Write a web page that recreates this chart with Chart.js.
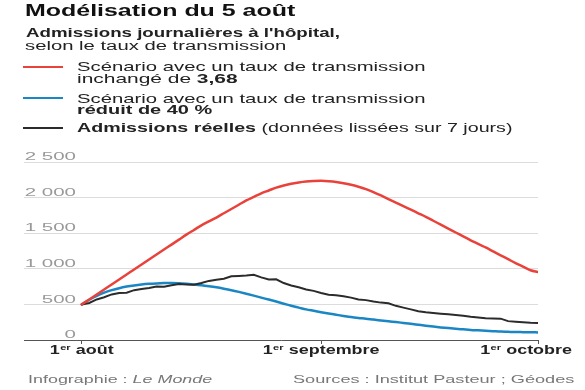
<!DOCTYPE html>
<html lang="fr">
<head>
<meta charset="utf-8">
<script src="https://cdn.jsdelivr.net/npm/chart.js@4.4.1/dist/chart.umd.min.js"></script>
<style>
  html, body { margin: 0; padding: 0; background: #fff; }
  #wrap { position: relative; width: 585px; height: 390px; overflow: hidden; font-family: "Liberation Sans", Arial, sans-serif; color: #222; }
  #chart { position: absolute; left: 0; top: 0; }
  .t { position: absolute; display: inline-block; white-space: nowrap; transform-origin: 0 0; }
  .sw { position: absolute; left: 23px; width: 40px; height: 2px; }
</style>
</head>
<body>
<div id="wrap">
  <canvas id="chart" width="585" height="390"></canvas>

  <span class="t" data-w="270" style="left:25px;top:2px;font-size:17px;line-height:17px;font-weight:bold;color:#111">Modélisation du 5 août</span>
  <span class="t" data-w="314" style="left:26px;top:27.1px;font-size:12.5px;line-height:12.5px;font-weight:bold">Admissions journalières à l'hôpital,</span>
  <span class="t" data-w="261" style="left:25px;top:40.1px;font-size:12.5px;line-height:12.5px">selon le taux de transmission</span>

  <div class="sw" style="top:65.7px;background:#e8423b"></div>
  <span class="t" data-w="348" style="left:77px;top:60px;font-size:13px;line-height:13px">Scénario avec un taux de transmission</span>
  <span class="t" data-w="161" style="left:77px;top:71.7px;font-size:13px;line-height:13px">inchangé de <b>3,68</b></span>

  <div class="sw" style="top:96.7px;background:#1a87c4"></div>
  <span class="t" data-w="348" style="left:77px;top:92.3px;font-size:13px;line-height:13px">Scénario avec un taux de transmission</span>
  <span class="t" data-w="135" style="left:77px;top:103.3px;font-size:13px;line-height:13px"><b>réduit de 40 %</b></span>

  <div class="sw" style="top:126.7px;background:#2b2b2b"></div>
  <span class="t" data-w="435" style="left:77px;top:120.7px;font-size:13px;line-height:13px"><b>Admissions réelles</b> (données lissées sur 7 jours)</span>

  <span class="t" data-w="184" style="left:28px;top:373.7px;font-size:11px;line-height:11px;color:#777">Infographie : <i>Le Monde</i></span>
  <span class="t" data-w="282" style="left:293px;top:373.7px;font-size:11px;line-height:11px;color:#777">Sources : Institut Pasteur ; Géodes</span>
</div>

<script>
// jours depuis le 1er août
const days = [
  0, 1, 2, 3, 4, 5, 6, 7, 8, 9, 10, 11, 12, 13, 14, 15, 16, 17, 18, 19, 20,
  21, 22, 23, 24, 25, 26, 27, 28, 29, 30, 31, 32, 33, 34, 35, 36, 37, 38, 39, 40,
  41, 42, 43, 44, 45, 46, 47, 48, 49, 50, 51, 52, 53, 54, 55, 56, 57, 58, 59, 60, 61
];

// Scénario taux inchangé (3,68)
const scenarioUnchanged = [
  500, 570, 640, 710, 780, 850, 920, 990, 1060, 1130, 1200, 1270, 1340, 1410, 1480, 1545, 1610, 1665, 1720, 1780, 1840,
  1900, 1960, 2010, 2060, 2100, 2140, 2170, 2195, 2212, 2225, 2232, 2235, 2230, 2220, 2202, 2180, 2152, 2120, 2078, 2030,
  1980, 1930, 1880, 1830, 1780, 1730, 1675, 1620, 1565, 1510, 1455, 1400, 1350, 1300, 1245, 1190, 1135, 1080, 1030, 980, 955
];

// Scénario taux réduit de 40 %
const scenarioReduced = [
  500, 565, 620, 665, 700, 728, 750, 767, 780, 789, 795, 799, 800, 797, 790, 781, 770, 756, 740, 721, 700,
  676, 650, 623, 595, 568, 540, 510, 480, 455, 430, 410, 390, 372, 355, 338, 322, 310, 300, 287, 275,
  263, 252, 240, 228, 214, 200, 188, 177, 167, 158, 150, 142, 136, 130, 124, 118, 115, 112, 110, 108, 107
];

// Admissions réelles (lissées sur 7 jours)
const realAdmissions = [
  500, 520, 570, 600, 640, 660, 665, 700, 715, 730, 750, 748, 770, 785, 780, 775, 800, 830, 845, 860, 895,
  900, 905, 915, 880, 850, 852, 800, 765, 740, 710, 690, 660, 635, 630, 615, 595, 570, 560, 540, 525,
  515, 480, 455, 430, 405, 390, 380, 370, 360, 350, 340, 325, 315, 305, 302, 300, 265, 258, 250, 242, 240
];

const yTicks = [0, 500, 1000, 1500, 2000, 2500];
const yTickLabels = ['0', '500', '1 000', '1 500', '2 000', '2 500'];
const xTickDays = [0, 32, 61];
const xTickLabels = ['1er août', '1er septembre', '1er octobre'];

const FONT = '"Liberation Sans", Arial, sans-serif';

// étire horizontalement les textes à la largeur voulue
document.querySelectorAll('.t').forEach(el => {
  const w = el.offsetWidth;
  el.style.transform = 'scaleX(' + (parseFloat(el.dataset.w) / w) + ')';
});

function pts(vals) {
  return vals.map((v, i) => ({ x: days[i], y: v }));
}

// libellés des axes dessinés à partir des échelles (étirés comme l'original)
const axisText = {
  id: 'axisText',
  afterDraw(chart) {
    const ctx = chart.ctx;
    const sy = chart.scales.y;
    const sx = chart.scales.x;

    ctx.save();
    ctx.fillStyle = '#999';
    ctx.font = '10px ' + FONT;
    ctx.textAlign = 'right';
    ctx.textBaseline = 'alphabetic';
    yTicks.forEach((v, i) => {
      ctx.save();
      ctx.translate(76, sy.getPixelForValue(v) - 1.8);
      ctx.scale(2.05, 1);
      ctx.fillText(yTickLabels[i], 0, 0);
      ctx.restore();
    });
    ctx.restore();

    ctx.save();
    ctx.fillStyle = '#222';
    ctx.textAlign = 'left';
    ctx.textBaseline = 'alphabetic';
    const k = 1.38;
    xTickDays.forEach((d, i) => {
      const m = xTickLabels[i].match(/^(\d+)(er)(.*)$/);
      ctx.font = 'bold 13px ' + FONT;
      const w1 = ctx.measureText(m[1]).width;
      const w3 = ctx.measureText(m[3]).width;
      ctx.font = 'bold 8px ' + FONT;
      const w2 = ctx.measureText(m[2]).width + 0.5;
      const w = (w1 + w2 + w3) * k;
      let cx = sx.getPixelForValue(d);
      if (cx + w / 2 > 572) cx = 572 - w / 2;
      ctx.save();
      ctx.translate(cx - w / 2, 354);
      ctx.scale(k, 1);
      ctx.font = 'bold 13px ' + FONT;
      ctx.fillText(m[1], 0, 0);
      ctx.font = 'bold 8px ' + FONT;
      ctx.fillText(m[2], w1 + 0.3, -4.5);
      ctx.font = 'bold 13px ' + FONT;
      ctx.fillText(m[3], w1 + w2, 0);
      ctx.restore();
    });
    ctx.restore();
  }
};

new Chart(document.getElementById('chart'), {
  type: 'line',
  data: {
    datasets: [
      {
        label: 'Scénario avec un taux de transmission inchangé de 3,68',
        data: pts(scenarioUnchanged),
        borderColor: '#e8423b',
        borderWidth: 2.5,
        cubicInterpolationMode: 'monotone'
      },
      {
        label: 'Admissions réelles',
        data: pts(realAdmissions),
        borderColor: '#2b2b2b',
        borderWidth: 2,
        tension: 0
      },
      {
        label: 'Scénario avec un taux de transmission réduit de 40 %',
        data: pts(scenarioReduced),
        borderColor: '#1a87c4',
        borderWidth: 2.5,
        cubicInterpolationMode: 'monotone'
      }
    ]
  },
  options: {
    responsive: false,
    animation: false,
    devicePixelRatio: 1,
    layout: { padding: { left: 24, right: 47, top: 162, bottom: 46 } },
    elements: { point: { radius: 0 }, line: { borderCapStyle: 'round' } },
    plugins: { legend: { display: false }, tooltip: { enabled: false } },
    scales: {
      x: {
        type: 'linear',
        min: -7.72,
        max: 61,
        afterBuildTicks: s => { s.ticks = xTickDays.map(v => ({ value: v })); },
        ticks: { display: false },
        grid: { drawOnChartArea: false, drawTicks: true, tickLength: 4, color: '#555' },
        border: { display: true, color: '#555', width: 1 }
      },
      y: {
        min: 0,
        max: 2500,
        afterBuildTicks: s => { s.ticks = yTicks.map(v => ({ value: v })); },
        ticks: { display: false },
        grid: { color: '#dcdcdc', lineWidth: 1, drawTicks: false },
        border: { display: false }
      }
    }
  },
  plugins: [axisText]
});
</script>
</body>
</html>
